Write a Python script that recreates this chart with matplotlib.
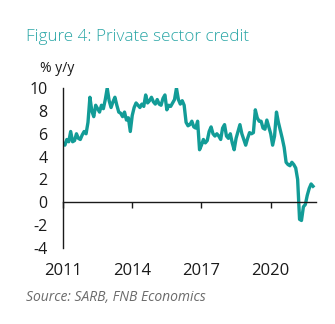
import numpy as np
import pandas as pd
import matplotlib
matplotlib.use('Agg')
import matplotlib.pyplot as plt

# monthly private sector credit growth, % y/y
start_month = '2011-01'
credit = [5.2, 5.0, 5.5, 5.3, 6.2, 5.3, 5.4, 6.0, 5.6, 5.5, 5.9, 6.2,
          6.0, 7.0, 9.2, 8.0, 7.5, 8.5, 8.2, 7.9, 8.5, 8.2, 9.0, 10.0,
          8.9, 8.3, 8.8, 9.2, 8.5, 7.9, 7.8, 7.5, 7.9, 7.2, 7.4, 6.2,
          7.6, 8.3, 8.7, 8.5, 8.3, 8.6, 8.4, 9.4, 8.7, 8.9, 9.2, 8.8,
          8.6, 9.0, 8.6, 8.5, 9.1, 9.4, 8.1, 8.5, 8.4, 8.7, 9.0, 10.0,
          9.0, 8.6, 8.9, 8.5, 7.0, 6.7, 6.8, 7.1, 6.6, 6.5, 7.1, 4.6,
          5.0, 5.5, 5.2, 5.4, 6.2, 6.6, 6.0, 5.8, 6.0, 5.8, 5.5, 6.5,
          6.8, 5.8, 5.6, 6.0, 5.2, 4.6, 5.6, 6.2, 6.8, 6.0, 5.5, 5.0,
          5.6, 6.1, 6.0, 6.1, 8.1, 7.4, 7.1, 7.1, 6.5, 6.4, 7.2, 6.6,
          6.0, 5.0, 5.8, 7.9, 7.0, 6.3, 5.6, 4.8, 3.5, 3.3, 3.2, 3.5,
          3.3, 3.0, 2.0, -1.5, -1.6, -0.4, -0.2, 0.6, 1.2, 1.6, 1.4]
year_ticks = [2011, 2014, 2017, 2020]
y_ticks = [-4, -2, 0, 2, 4, 6, 8, 10]

dates = pd.period_range(start_month, periods=len(credit), freq='M')
x = dates.year + (dates.month - 1) / 12.0

teal = '#129c97'
title_teal = '#2aa6a6'
dark = '#1a1a1a'

plt.rcParams['font.family'] = ['Open Sans', 'DejaVu Sans']
plt.rcParams['axes.unicode_minus'] = False

fig = plt.figure(figsize=(3.35, 3.24), dpi=100)
ax = fig.add_axes([0.188, 0.235, 0.755, 0.493])

ax.plot(x, credit, color=teal, lw=2.4, solid_joinstyle='round')

ax.set_xlim(2011, 2011 + (len(credit) + 0.5) / 12.0)
ax.set_ylim(-4, 10)

for s in ['top', 'right']:
    ax.spines[s].set_visible(False)
ax.spines['bottom'].set_position(('data', 0))
ax.spines['bottom'].set_color(dark)
ax.spines['left'].set_color(dark)
ax.spines['bottom'].set_linewidth(1.0)
ax.spines['left'].set_linewidth(1.0)

ax.set_yticks(y_ticks)
ax.tick_params(axis='y', length=0, pad=11, labelsize=11.5, labelcolor=dark)
ax.set_xticks(year_ticks)
ax.tick_params(axis='x', direction='out', length=4, width=1, color=dark,
               labelbottom=False)

sec = ax.secondary_xaxis(0)
sec.set_xticks(year_ticks)
sec.spines['bottom'].set_visible(False)
sec.tick_params(axis='x', length=0, pad=11, labelsize=12, labelcolor=dark)

fig.text(0.078, 0.885, 'Figure 4: Private sector credit', color=title_teal,
         fontsize=12.3, fontweight='light', va='center', ha='left')
fig.text(0.118, 0.79, '% y/y', color=dark, fontsize=10, va='center', ha='left')
fig.text(0.078, 0.082, 'Source: SARB, FNB Economics', color='#6b6b6b',
         fontsize=10, style='italic', va='center', ha='left')

fig.savefig('out.png', dpi=100)
